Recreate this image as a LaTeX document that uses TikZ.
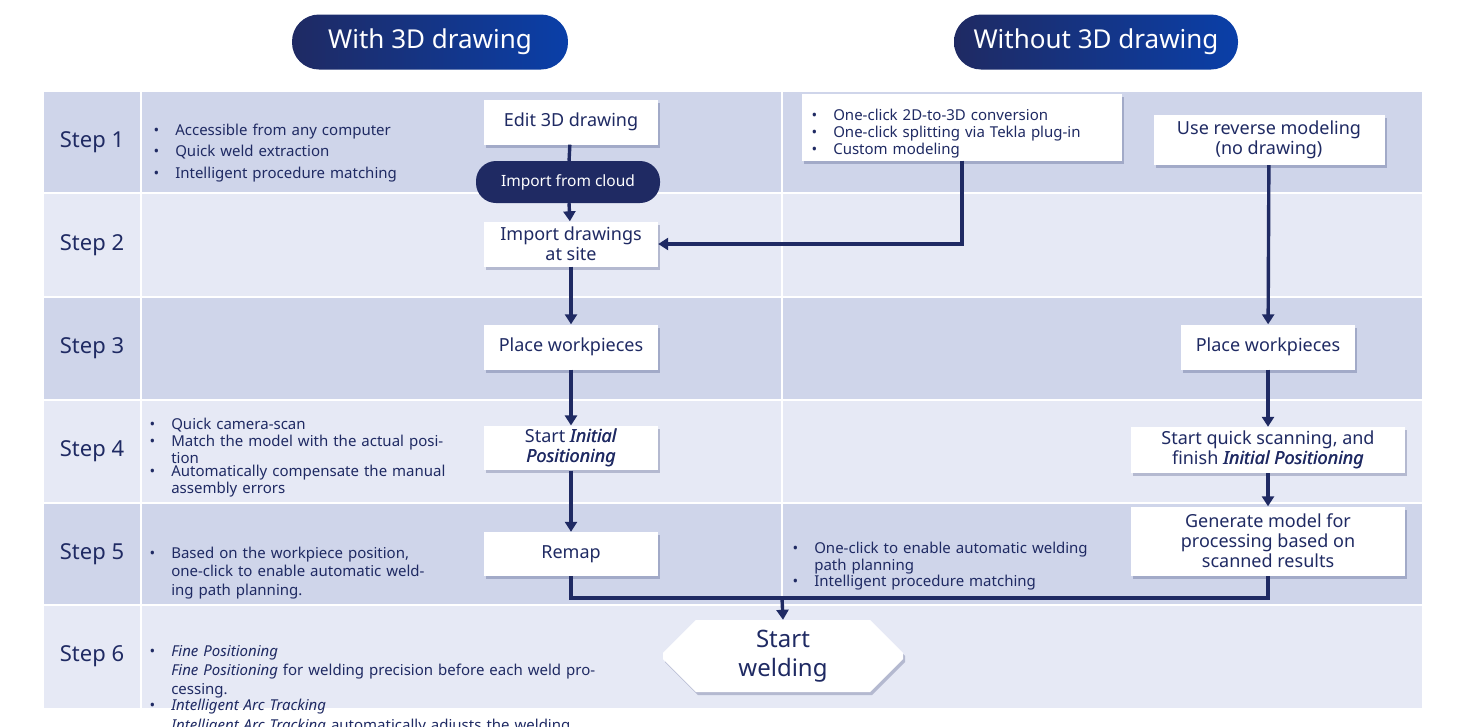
\documentclass[tikz,border=0pt]{standalone}
\usepackage{fontspec}
\setmainfont{Noto Sans}
\usetikzlibrary{arrows.meta, calc, shapes.geometric, shapes.misc, shadows}
\definecolor{navy}{HTML}{1F2A63}
\definecolor{rowdark}{HTML}{CFD5EA}
\definecolor{rowlight}{HTML}{E6E9F5}
\definecolor{pillblue}{HTML}{0A3FA8}
\newcommand{\itm}[1]{\par\noindent\makebox[1.45em][l]{\textbullet}\parbox[t]{\dimexpr\linewidth-1.45em}{#1}}
\newcommand{\bi}[1]{\rlap{\textit{#1}}\kern0.45pt\textit{#1}}
\tikzset{
  box/.style={fill=white, minimum width=174pt, minimum height=45pt, align=center,
    text=navy, font=\fontsize{18}{20}\selectfont,
    drop shadow={shadow xshift=2pt, shadow yshift=-3pt, fill=navy, opacity=0.25}},
  steplbl/.style={text=navy, font=\fontsize{22}{26}\selectfont},
  bul/.style={text=navy, font=\fontsize{15}{17}\selectfont, align=left, anchor=north west},
  flow/.style={navy, line width=3.4pt},
  arr/.style={flow, -{Triangle[length=10pt, width=12pt]}},
  head/.style={rounded corners=27pt, minimum height=55pt, text=white,
    font=\fontsize{26}{30}\selectfont, left color=navy, right color=pillblue}
}
\begin{document}
\begin{tikzpicture}[x=1pt, y=-1pt]
\useasboundingbox (0,0) rectangle (1462,726);
% rows
\foreach \t/\b/\c [count=\i] in {92/193/rowdark, 193/297/rowlight, 297/400/rowdark,
    400/503/rowlight, 503/605/rowdark, 605/708/rowlight} {
  \fill[\c] (44,\t) rectangle (1422,\b);
  \node[steplbl] (s\i) at (92,{(\t+\b)/2}) {Step \i};
}
\foreach \y in {193,297,400,503,605} \draw[white, line width=2pt] (44,\y) -- (1422,\y);
\draw[white, line width=2pt] (141,92) -- (141,708);
\draw[white, line width=1.5pt] (782,92) -- (782,605);
% headers
\node[head, minimum width=276pt] (h1) at (430,42) {With 3D drawing};
\node[head, minimum width=284pt] (h2) at (1096,42) {Without 3D drawing};
% left column
\node[box] (edit) at (571,122) {Edit 3D drawing};
\node[fill=navy, rounded corners=20pt, minimum width=184pt, minimum height=42pt,
  text=white, font=\fontsize{15.5}{18}\selectfont] (cloud) at (568,182) {Import from cloud};
\node[box] (imp) at (571,244) {Import drawings\\at site};
\node[box] (place) at (571,347) {Place workpieces};
\node[box, minimum height=43pt] (init) at (571,448) {Start \bi{Initial}\\\bi{Positioning}};
\node[box, minimum height=44pt] (remap) at (571,554) {Remap};
% right column
\node[box, minimum width=320pt, minimum height=67pt] (conv) at (962,127) {};
\node[bul, text width=310pt] (convtxt) at (808,100) {\itm{One-click 2D-to-3D conversion}\itm{One-click splitting via Tekla plug-in}\itm{Custom modeling}};
\node[box, minimum width=231pt, minimum height=50pt] (rev) at (1269,140) {Use reverse modeling\\(no drawing)};
\node[box] (place2) at (1268,347) {Place workpieces};
\node[box, minimum width=274pt, minimum height=46pt] (scan) at (1268,450) {Start quick scanning, and\\finish \bi{Initial Positioning}};
\node[box, minimum width=274pt, minimum height=69pt] (gen) at (1268,541) {Generate model for\\processing based on\\scanned results};
\node[fill=white, chamfered rectangle, chamfered rectangle xsep=36pt, chamfered rectangle angle=45,
  minimum width=240pt, minimum height=72pt, align=center, text=navy,
  font=\fontsize{24}{29}\selectfont,
  drop shadow={shadow xshift=2pt, shadow yshift=-3pt, fill=navy, opacity=0.25}] (weld) at (783,656) {Start\\welding};
% bullets
\node[bul, text width=300pt, font=\fontsize{15}{21.5}\selectfont] (b1) at (150,110) {\itm{Accessible from any computer}\itm{Quick weld extraction}\itm{Intelligent procedure matching}};
\node[bul, text width=300pt] (b4) at (146,409) {\itm{Quick camera-scan}\itm{Match the model with the actual position}\itm{Automatically compensate the manual assembly errors}};
\node[bul, text width=275pt, font=\fontsize{15}{18.5}\selectfont] (b5) at (146,536) {\itm{Based on the workpiece position, one-click to enable automatic welding path planning.}};
\node[bul, text width=320pt] (b5r) at (789,533) {\itm{One-click to enable automatic welding path planning}\itm{Intelligent procedure matching}};
\node[bul, text width=450pt, font=\fontsize{15}{19}\selectfont] (b6) at (146,634) {\itm{\bi{Fine Positioning} for welding precision before each weld processing.}\itm{\bi{Intelligent Arc Tracking} automatically adjusts the welding quality.}};
% connectors
\draw[flow] (edit) -- (cloud);
\draw[arr] (cloud) -- (imp);
\draw[arr] (imp) -- (place);
\draw[arr] (place) -- (init);
\draw[arr] (init) -- (remap);
\draw[arr] (conv.south) |- (imp.east);
\draw[arr] (rev) -- (place2);
\draw[arr] (place2) -- (scan);
\draw[arr] (scan) -- (gen);
\coordinate (join) at (782,598);
\draw[flow] (remap.south) |- (join) -| (gen.south);
\draw[arr] (join) -- (weld.north);
\end{tikzpicture}
\end{document}
